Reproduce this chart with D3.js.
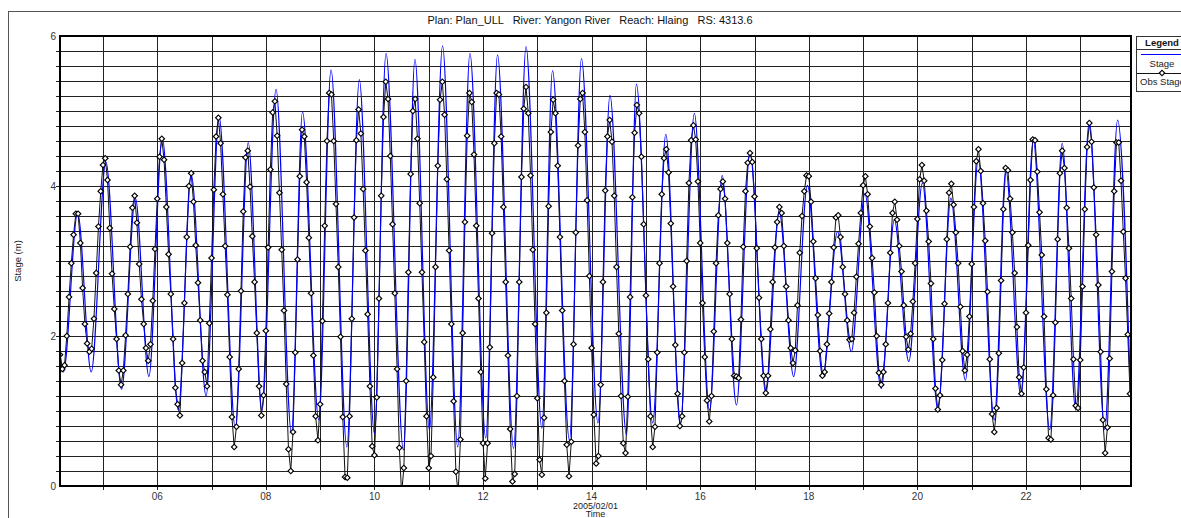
<!DOCTYPE html>
<html>
<head>
<meta charset="utf-8">
<script src="https://cdn.jsdelivr.net/npm/d3@7"></script>
<style>
body{margin:0;background:#fff}
svg{font-family:Arial,"Liberation Sans",sans-serif}
</style>
</head>
<body>
<svg id="chart" width="1181" height="518"></svg>
<script>
var title = "Plan: Plan_ULL   River: Yangon River   Reach: Hlaing   RS: 4313.6"
var xTitle = "2005/02/01"
var xTitle2 = "Time"
var yTitle = "Stage (m)"
var legendNames = ["Stage", "Obs Stage"]
var yTicks = [0, 2, 4, 6]

// observed stage, hourly from 2005-02-04 05:00
var obsStart = "2005-02-04T05:00:00Z"
var obsStage = [
 1.75,1.56,1.61,2.0,2.52,2.97,3.35,3.63,3.63,3.24,
 2.64,2.16,1.9,1.79,1.83,2.23,2.84,3.46,3.93,4.28,
 4.37,4.08,3.44,2.83,2.36,1.96,1.54,1.35,1.54,2.01,
 2.56,3.19,3.71,3.87,3.51,2.96,2.49,2.16,1.84,1.67,
 1.89,2.47,3.16,3.83,4.39,4.63,4.35,3.72,3.09,2.56,
 1.96,1.31,1.09,0.94,1.64,2.44,3.32,4.0,4.17,3.79,
 3.21,2.71,2.21,1.67,1.52,1.33,2.17,3.04,3.95,4.66,
 4.91,4.57,3.89,3.2,2.55,1.72,0.92,0.52,0.79,1.56,
 2.60,3.66,4.38,4.47,3.99,3.33,2.72,2.04,1.33,0.94,
 1.21,2.07,3.18,4.22,4.98,5.13,4.67,3.91,3.15,2.34,
 1.36,0.49,0.20,0.72,1.78,3.02,4.13,4.75,4.66,4.05,
 3.31,2.57,1.74,0.93,0.61,1.09,2.20,3.47,4.60,5.24,
 5.22,4.60,3.76,2.92,1.99,0.92,0.12,0.11,0.93,2.23,
 3.58,4.61,5.02,4.70,3.96,3.14,2.29,1.33,0.53,0.41,
 1.18,2.50,3.87,4.92,5.39,5.16,4.40,3.49,2.57,1.56,
 0.51,-0.1,0.24,1.40,2.85,4.16,5.00,5.16,4.63,3.77,
 2.85,1.92,0.93,0.24,0.40,1.45,2.92,4.27,5.15,5.39,
 4.95,4.09,3.14,2.16,1.13,0.19,-0.1,0.62,2.04,3.52,
 4.67,5.24,5.12,4.42,3.47,2.50,1.52,0.57,0.10,0.57,
 1.85,3.37,4.57,5.24,5.22,4.66,3.72,2.72,1.74,0.76,
 0.06,0.16,1.20,2.72,4.12,5.03,5.32,4.97,4.14,3.15,
 2.16,1.17,0.35,0.15,0.91,2.31,3.73,4.72,5.15,4.97,
 4.27,3.32,2.34,1.40,0.55,0.13,0.59,1.89,3.38,4.54,
 5.16,5.24,4.72,3.81,2.80,1.84,0.95,0.30,0.40,
 1.35,2.72,3.94,4.66,4.88,4.59,3.87,2.92,2.03,1.20,
 0.57,0.44,1.19,2.52,3.85,4.71,5.08,4.97,4.39,3.49,
 2.54,1.69,0.93,0.52,0.79,1.78,2.97,3.89,4.37,4.49,
 4.18,3.50,2.66,1.88,1.23,0.80,0.93,1.78,3.00,4.04,
 4.61,4.81,4.62,4.06,3.24,2.44,1.72,1.14,0.86,1.20,
 2.06,2.97,3.61,3.96,4.06,3.83,3.24,2.56,1.96,1.47,
 1.46,1.44,2.22,3.19,3.93,4.31,4.44,4.32,3.86,3.17,
 2.51,1.96,1.47,1.24,1.47,2.09,2.72,3.18,3.52,3.72,
 3.64,3.20,2.66,2.21,1.84,1.64,1.81,2.41,3.11,3.60,
 3.93,4.14,4.13,3.79,3.26,2.77,2.28,1.80,1.47,1.52,
 1.89,2.30,2.72,3.18,3.58,3.61,3.32,2.92,2.56,2.21,
 1.95,1.96,2.31,2.79,3.23,3.64,4.01,4.13,3.89,3.46,
 3.04,2.58,2.00,1.51,1.35,1.52,1.89,2.44,3.11,3.64,
 3.79,3.55,3.20,2.86,2.41,1.99,1.82,2.03,2.46,2.97,
 3.56,4.09,4.28,4.07,3.67,3.26,2.70,1.96,1.30,1.02,
 1.21,1.68,2.43,3.29,3.91,4.03,3.75,3.38,2.97,2.39,
 1.80,1.54,1.75,2.26,2.96,3.72,4.33,4.49,4.20,3.77,
 3.27,2.59,1.69,0.96,0.72,1.04,1.77,2.74,3.69,4.24,
 4.21,3.83,3.38,2.84,2.12,1.45,1.23,1.58,2.31,3.21,
 4.08,4.62,4.61,4.19,3.65,3.08,2.26,1.29,0.64,0.62,
 1.21,2.18,3.29,4.17,4.47,4.24,3.71,3.17,2.50,1.69,
 1.07,1.04,1.68,2.66,3.69,4.52,4.84,4.59,3.98,3.35,
 2.68,1.79,0.88,0.44,0.78,1.70,2.86,3.93,4.58,4.58,
 4.07,3.39,2.77,2.02,1.23
]

// computed stage, turning points (hours after 2005-02-04 00:00)
var stageBase = "2005-02-04T00:00:00Z"
var stageHours = [
 5,6.5,12.8,18.8,25.3,32.2,38.3,44.3,50.2,57.3,63.0,69.6,
 75.3,82.5,88.2,94.3,100.5,107.3,112.2,119.4,124.8,131.8,
 137.3,144.0,149.1,156.8,161.9,168.3,174.1,180.8,186.2,193.2,
 198.4,205.5,211.0,218.0,222.7,230.2,235.5,242.8,248.1,255.4,
 259.8,267.0,272.8,279.2,285.4,292.1,297.7,304.0,310.0,317.0,
 322.9,329.3,335.4,342.2,348.7,354.8,360.8,368.0,373.8,380.2,
 386.2,393.1,398.8,405.2,410.9,418.0,423.1,429.8,435.2,442.5,
 448.0,454.0,460.0,466.8,472.5,478.6
]
var stageValues = [
 1.77,1.52,3.64,1.52,4.32,1.29,3.84,1.46,4.64,1.01,4.15,1.2,
 4.93,0.77,4.58,1.01,5.29,0.7,4.99,0.88,5.55,0.52,
 5.42,0.7,5.77,0.48,5.69,0.75,5.87,0.52,5.77,0.64,
 5.75,0.5,5.86,0.77,5.54,0.61,5.7,0.84,5.21,0.68,
 5.36,0.84,4.69,0.81,4.97,1.01,4.14,1.08,4.46,1.24,
 3.66,1.46,4.01,1.46,3.39,1.79,3.9,1.3,3.55,1.66,
 4.04,1.01,3.84,1.41,4.35,0.88,4.21,1.19,4.61,0.75,
 4.57,1.01,4.86,0.75,4.88,0.8
]

var HOUR = 3600000
var t0 = new Date(obsStart).getTime()
var tb = new Date(stageBase).getTime()
var obs = obsStage.map(function(v, i){ return {t: new Date(t0 + i*HOUR), v: v} })
var stage = stageHours.map(function(h, i){ return {t: new Date(tb + h*HOUR), v: stageValues[i]} })

var svg = d3.select("#chart")
var L = 60, R = 1131, T = 36, B = 486

var x = d3.scaleUtc()
    .domain([new Date(tb + 5*HOUR), new Date(tb + 478.42*HOUR)])
    .range([L, R])
var y = d3.scaleLinear().domain([0, 6]).range([B, T])

// outer frame
svg.append("rect").attr("x", 8.5).attr("y", 11.5).attr("width", 1200).attr("height", 600)
    .attr("fill", "none").attr("stroke", "#555").attr("stroke-width", 1)

svg.append("text").attr("x", 590).attr("y", 24).attr("text-anchor", "middle")
    .style("white-space", "pre").attr("font-size", 11).attr("fill", "#111").text(title)

// grid
var hGrid = d3.range(1, 30).map(function(i){ return i*0.2 })
svg.append("g").selectAll("line").data(hGrid).enter().append("line")
    .attr("x1", L - 4).attr("x2", R)
    .attr("y1", function(d){ return Math.round(y(d)) + 0.5 })
    .attr("y2", function(d){ return Math.round(y(d)) + 0.5 })
    .attr("stroke", "#222").attr("stroke-width", 1)

var days = d3.utcDay.range(x.domain()[0], x.domain()[1])
svg.append("g").selectAll("line").data(days).enter().append("line")
    .attr("x1", function(d){ return Math.round(x(d)) + 0.5 })
    .attr("x2", function(d){ return Math.round(x(d)) + 0.5 })
    .attr("y1", T).attr("y2", B + 4)
    .attr("stroke", "#222").attr("stroke-width", 1)

svg.append("g").selectAll("text").data(days.filter(function(d){ return d.getUTCDate() % 2 == 0 }))
    .enter().append("text")
    .attr("x", function(d){ return x(d) }).attr("y", 500)
    .attr("text-anchor", "middle").attr("font-size", 10).attr("fill", "#333")
    .text(d3.utcFormat("%d"))

svg.append("g").selectAll("text").data(yTicks).enter().append("text")
    .attr("x", 56).attr("y", function(d){ return y(d) + 3.5 })
    .attr("text-anchor", "end").attr("font-size", 10).attr("fill", "#333")
    .text(function(d){ return d })

svg.append("text").attr("x", (L + R)/2).attr("y", 508.5).attr("text-anchor", "middle")
    .attr("font-size", 9).attr("fill", "#222").text(xTitle)
svg.append("text").attr("x", (L + R)/2).attr("y", 517).attr("text-anchor", "middle")
    .attr("font-size", 9).attr("fill", "#222").text(xTitle2)
svg.append("text").attr("transform", "translate(21," + ((T + B)/2) + ") rotate(-90)")
    .attr("text-anchor", "middle").attr("font-size", 9.5).attr("fill", "#222").text(yTitle)

// series
svg.append("clipPath").attr("id", "plotclip").append("rect")
    .attr("x", L).attr("y", T).attr("width", R - L).attr("height", B - T)
var plot = svg.append("g").attr("clip-path", "url(#plotclip)")

var line = d3.line().x(function(d){ return x(d.t) }).y(function(d){ return y(d.v) })

plot.append("path").datum(obs).attr("d", line)
    .attr("fill", "none").attr("stroke", "#111").attr("stroke-width", 1)

plot.append("path").datum(stage).attr("d", line.curve(d3.curveMonotoneX))
    .attr("fill", "none").attr("stroke", "#0000ff").attr("stroke-width", 1.2)

var diamond = d3.symbol().type(d3.symbolSquare).size(15)
plot.selectAll(".obs").data(obs).enter().append("path").attr("class", "obs")
    .attr("d", diamond)
    .attr("transform", function(d){ return "translate(" + x(d.t) + "," + y(d.v) + ") rotate(45)" })
    .attr("fill", "#fff").attr("stroke", "#000").attr("stroke-width", 1.2)

// plot border
svg.append("rect").attr("x", L).attr("y", T).attr("width", R - L).attr("height", B - T)
    .attr("fill", "none").attr("stroke", "#000").attr("stroke-width", 2)

// legend
var lg = svg.append("g")
lg.append("rect").attr("x", 1136.5).attr("y", 36.5).attr("width", 80).attr("height", 55)
    .attr("fill", "#fff").attr("stroke", "#333")
lg.append("text").attr("x", 1162).attr("y", 45.5).attr("text-anchor", "middle")
    .attr("font-size", 9.5).attr("font-weight", "bold").attr("fill", "#111").text("Legend")
lg.append("line").attr("x1", 1136).attr("x2", 1181).attr("y1", 49.5).attr("y2", 49.5).attr("stroke", "#333")
lg.append("line").attr("x1", 1141).attr("x2", 1181).attr("y1", 54.5).attr("y2", 54.5)
    .attr("stroke", "#0000ff").attr("stroke-width", 1.2)
lg.append("text").attr("x", 1162).attr("y", 67).attr("text-anchor", "middle")
    .attr("font-size", 9.5).attr("fill", "#222").text(legendNames[0])
lg.append("line").attr("x1", 1137).attr("x2", 1181).attr("y1", 73.5).attr("y2", 73.5).attr("stroke", "#111")
lg.append("path").attr("d", diamond).attr("transform", "translate(1162,73) rotate(45)")
    .attr("fill", "#fff").attr("stroke", "#000").attr("stroke-width", 1.2)
lg.append("text").attr("x", 1140).attr("y", 85).attr("text-anchor", "start")
    .attr("font-size", 9.5).attr("fill", "#222").text(legendNames[1])
</script>
</body>
</html>
